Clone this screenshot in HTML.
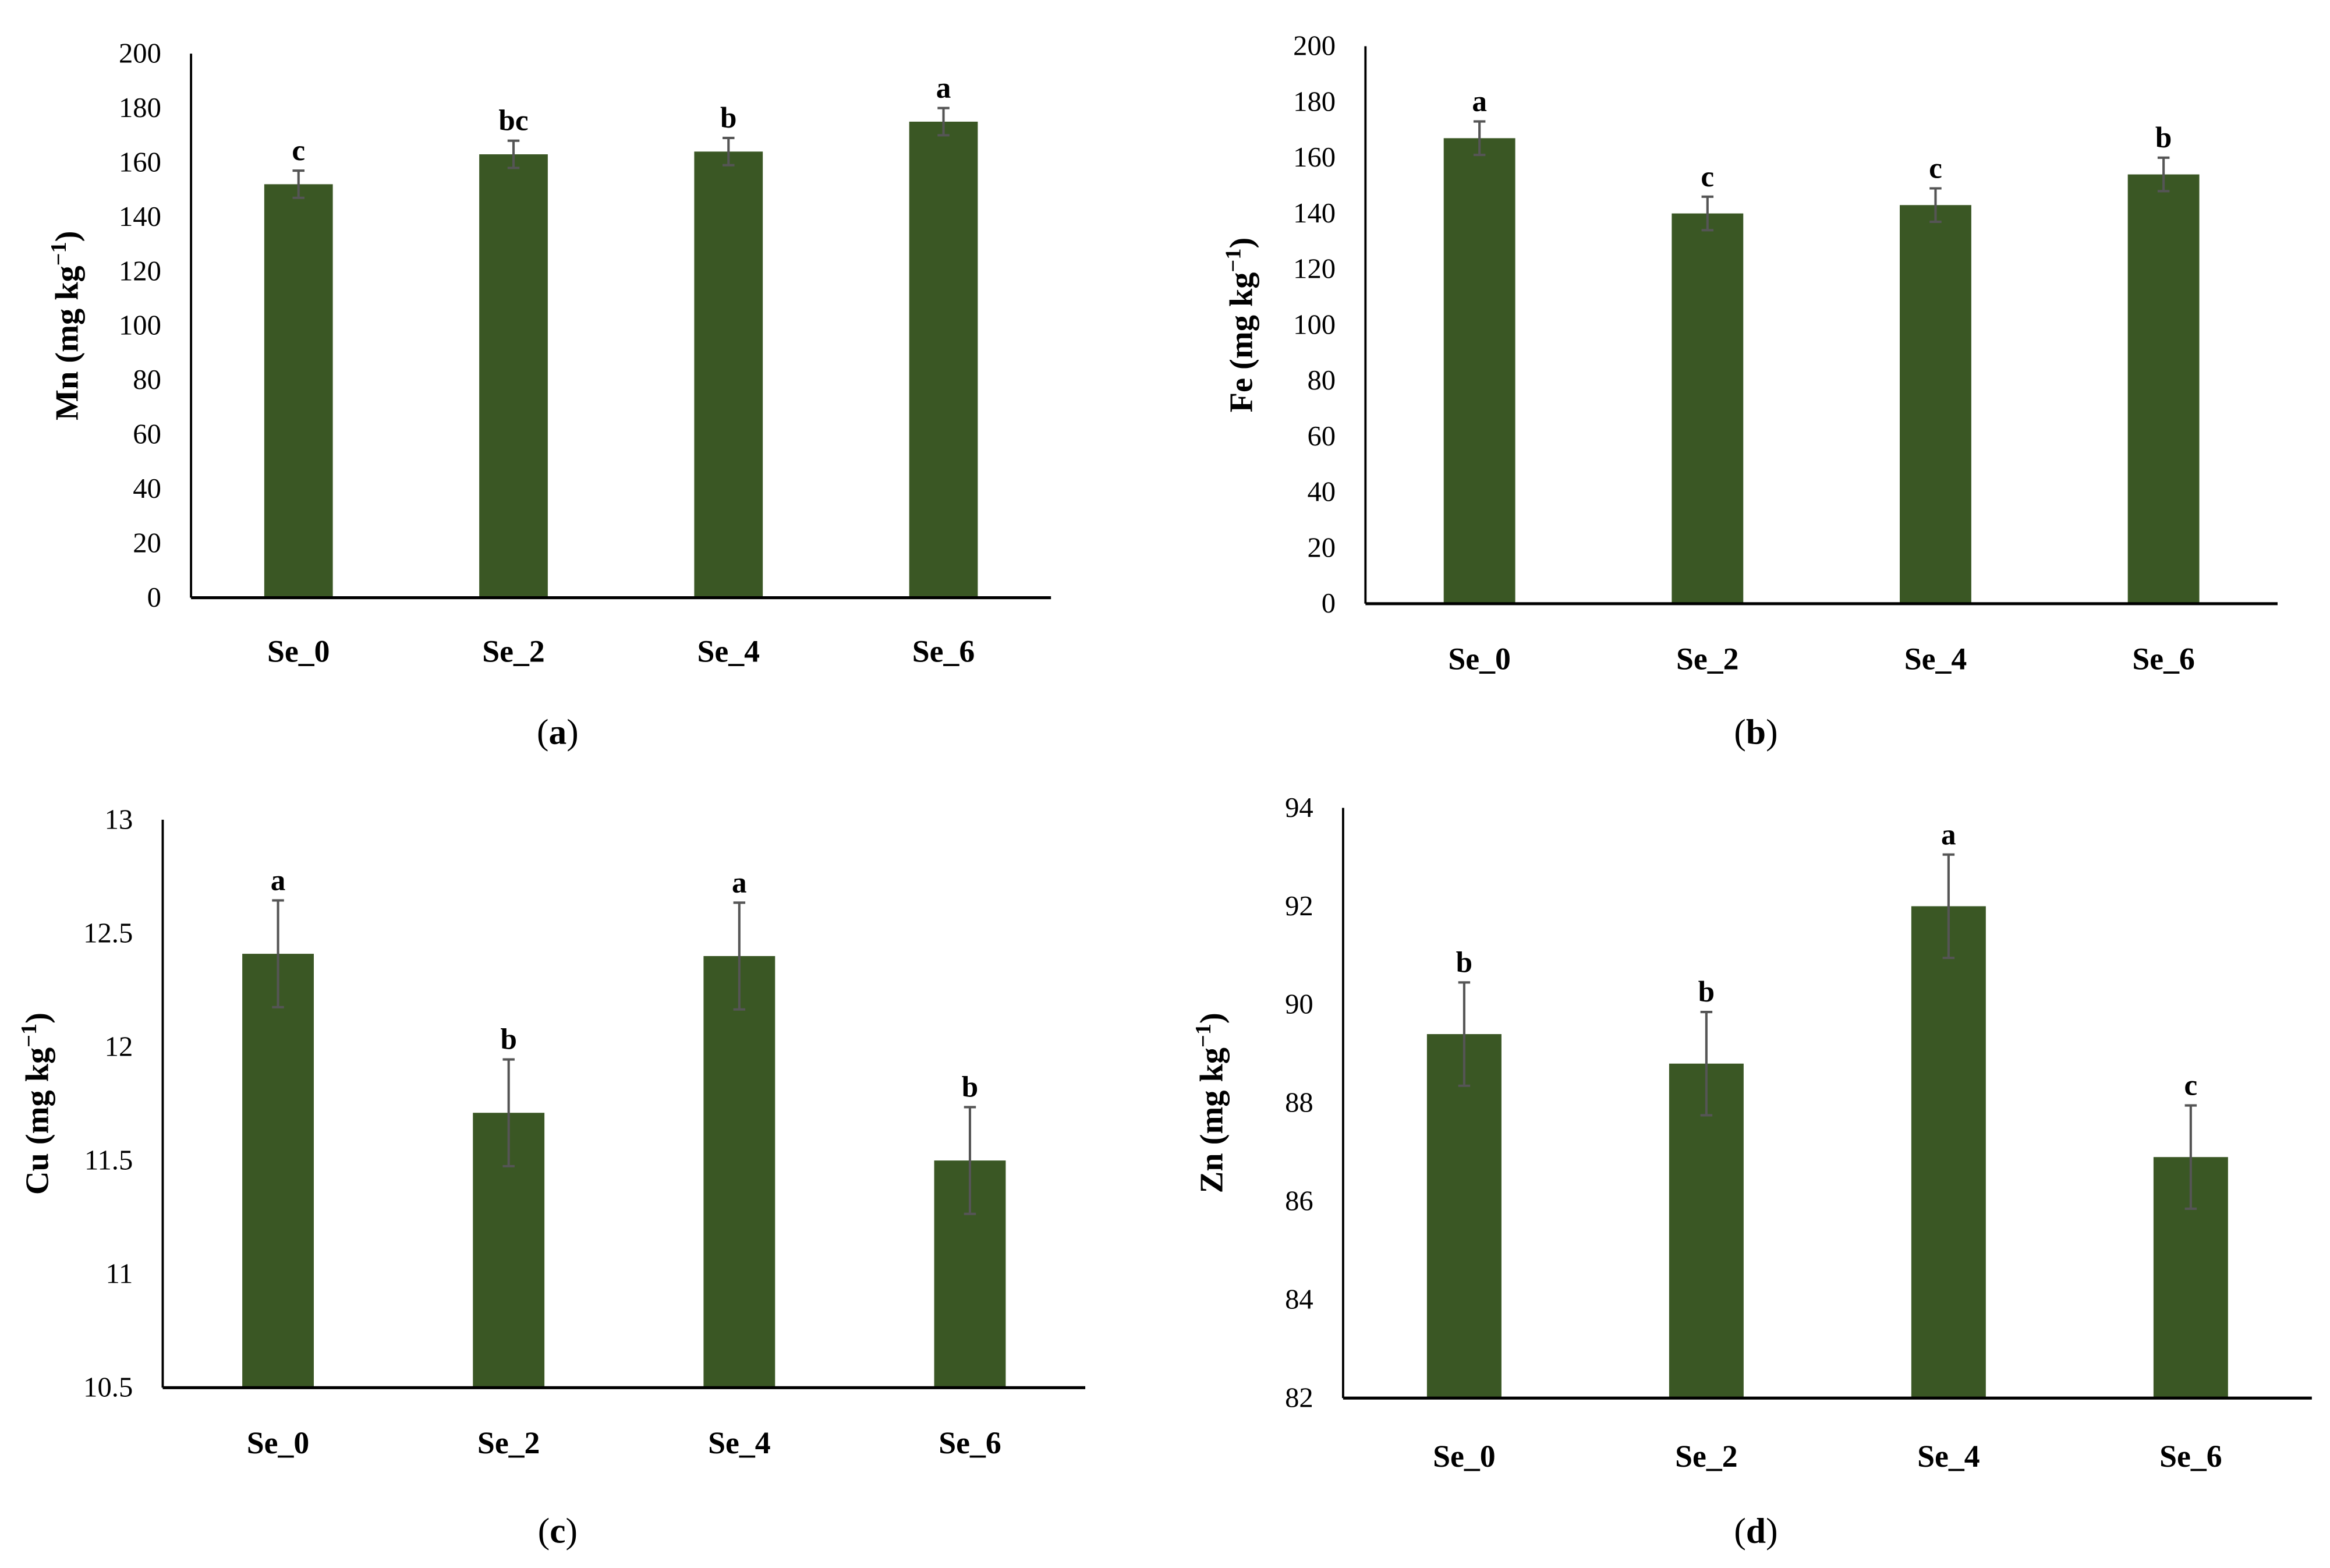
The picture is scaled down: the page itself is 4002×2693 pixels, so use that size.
<!DOCTYPE html>
<html><head><meta charset="utf-8"><style>
html,body{margin:0;padding:0;background:#fff;}
svg{display:block;}
text{font-family:"Liberation Serif",serif;fill:#000;}
</style></head><body>
<svg id="fig" xmlns="http://www.w3.org/2000/svg" width="4002" height="2693" viewBox="0 0 1563 1052"></svg>
<script>
const categories = ["Se_0","Se_2","Se_4","Se_6"];
const mnValues = [152, 163, 164, 175];
const mnErrors = [5, 5, 5, 5];
const mnLetters = ["c","bc","b","a"];
const mnTicks = [0,20,40,60,80,100,120,140,160,180,200];
const feValues = [167, 140, 143, 154];
const feErrors = [6, 6, 6, 6];
const feLetters = ["a","c","c","b"];
const feTicks = [0,20,40,60,80,100,120,140,160,180,200];
const cuValues = [12.41, 11.71, 12.40, 11.50];
const cuErrors = [0.235, 0.235, 0.235, 0.235];
const cuLetters = ["a","b","a","b"];
const cuTicks = [10.5,11,11.5,12,12.5,13];
const znValues = [89.4, 88.8, 92.0, 86.9];
const znErrors = [1.05, 1.05, 1.05, 1.05];
const znLetters = ["b","b","a","c"];
const znTicks = [82,84,86,88,90,92,94];

const NS="http://www.w3.org/2000/svg";
const svg=document.getElementById('fig');
function mk(tag,attrs,parent){const e=document.createElementNS(NS,tag);for(const k in attrs)e.setAttribute(k,attrs[k]);(parent||svg).appendChild(e);return e;}

const panels=[
 {id:'mn',el:'Mn',vals:mnValues,errs:mnErrors,lets:mnLetters,ticks:mnTicks,x0:128,x1:705,yTop:36,yBot:401,bw:46,titleX:52,xlabY:444,cap:'a',capX:374,capY:499},
 {id:'fe',el:'Fe',vals:feValues,errs:feErrors,lets:feLetters,ticks:feTicks,x0:916,x1:1528,yTop:31,yBot:405,bw:48,titleX:840,xlabY:449,cap:'b',capX:1178,capY:499},
 {id:'cu',el:'Cu',vals:cuValues,errs:cuErrors,lets:cuLetters,ticks:cuTicks,x0:109,x1:728,yTop:550,yBot:931,bw:48,titleX:32,xlabY:975,cap:'c',capX:374,capY:1035},
 {id:'zn',el:'Zn',vals:znValues,errs:znErrors,lets:znLetters,ticks:znTicks,x0:901,x1:1551,yTop:542,yBot:938,bw:50,titleX:820,xlabY:984,cap:'d',capX:1178,capY:1035}
];

panels.forEach(p=>{
  const g=mk('g',{});
  
  
  const tmin=p.ticks[0], tmax=p.ticks[p.ticks.length-1];
  const y=v=>p.yBot-(v-tmin)/(tmax-tmin)*(p.yBot-p.yTop);
  const band=(p.x1-p.x0)/categories.length;
  const x=i=>p.x0+band*(i+0.5);
  p.ticks.forEach(t=>{
    const tx=mk('text',{x:p.x0-20,y:y(t)+6,'text-anchor':'end','font-size':19},g);
    tx.textContent=t;
    
    
  });
  p.vals.forEach((v,i)=>{
    const r=mk('rect',{x:x(i)-p.bw/2,y:y(v),width:p.bw,height:p.yBot-y(v),fill:'#3a5724'},g);
    
    
    const e=p.errs[i], yt=y(v+e), yb=y(v-e);
    const eg=mk('g',{stroke:'#555','stroke-width':1.6},g);
    
    
    mk('line',{x1:x(i),x2:x(i),y1:yt,y2:yb},eg);
    mk('line',{x1:x(i)-4,x2:x(i)+4,y1:yt,y2:yt},eg);
    mk('line',{x1:x(i)-4,x2:x(i)+4,y1:yb,y2:yb},eg);
    const lt=mk('text',{x:x(i),y:yt-7,'text-anchor':'middle','font-size':20,'font-weight':'bold'},g);
    lt.textContent=p.lets[i];
    
    
    const xl=mk('text',{x:x(i),y:p.xlabY,'text-anchor':'middle','font-size':21,'font-weight':'bold'},g);
    xl.textContent=categories[i];
    
    
  });
  const ya=mk('line',{x1:p.x0,x2:p.x0,y1:p.yTop,y2:p.yBot,stroke:'#000','stroke-width':1.5},g);
  
  
  const xa=mk('line',{x1:p.x0,x2:p.x1,y1:p.yBot,y2:p.yBot,stroke:'#000','stroke-width':2},g);
  
  
  const cy=(p.yTop+p.yBot)/2;
  const tt=mk('text',{x:p.titleX,y:cy,'text-anchor':'middle','font-size':22,'font-weight':'bold',transform:`rotate(-90 ${p.titleX} ${cy})`},g);
  
  
  tt.appendChild(document.createTextNode(p.el+' (mg kg'));
  const sup=mk('tspan',{dy:-8,'font-size':15},tt);
  sup.textContent='−1';
  const cl=mk('tspan',{dy:8},tt);
  cl.textContent=')';
  const cap=mk('text',{x:p.capX,y:p.capY,'text-anchor':'middle','font-size':24},g);
  
  
  cap.appendChild(document.createTextNode('('));
  const cb=mk('tspan',{'font-weight':'bold'},cap);
  cb.textContent=p.cap;
  cap.appendChild(document.createTextNode(')'));
});
</script>
</body></html>
